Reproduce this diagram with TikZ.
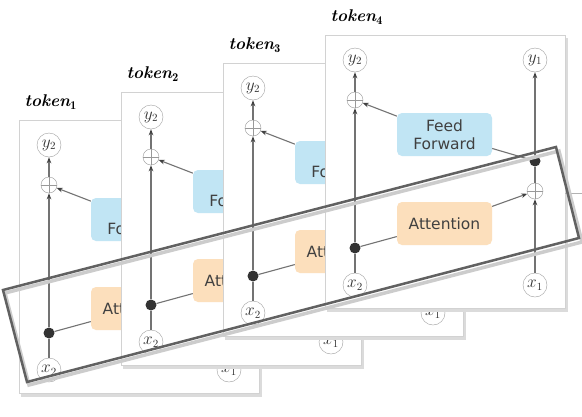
\documentclass[tikz,border=0pt]{standalone}
\usepackage{amsmath,amssymb}
\usepackage{fontspec}
\usepackage{xcolor}
\usepackage{tikz}
\usetikzlibrary{arrows.meta,positioning}
\newfontfamily\boxfont{DejaVu Sans}
\definecolor{ffblue}{RGB}{193,229,244}
\definecolor{attorange}{RGB}{252,223,188}
\definecolor{linegray}{RGB}{115,115,115}

\begin{document}
\begin{tikzpicture}[x=1pt, y=-1pt,
    tokcard/.style={draw=gray!35, fill=white},
    varnode/.style={circle, draw=gray!75, fill=white, minimum size=24pt, inner sep=0pt, text=black!80, font=\fontsize{16}{16}\selectfont},
    sumnode/.style={circle, draw=gray!80, fill=white, minimum size=16pt, inner sep=0pt},
    dotnode/.style={circle, fill=black!80, minimum size=11pt, inner sep=0pt},
    boxnode/.style={rounded corners=5pt, minimum width=95pt, minimum height=43pt, align=center,
        text=black!75, font=\boxfont\fontsize{15.5}{18}\selectfont},
    conn/.style={draw=linegray, line width=1.1pt},
    conarrow/.style={conn, -{Stealth[length=6pt, width=4.5pt, color=black!75]}}
]
    \useasboundingbox (0,0) rectangle (582,416);

    % the four token cards, back to front
    \foreach \i/\ox/\oy in {1/19/120, 2/121/92, 3/223/63, 4/325/35} {
        \begin{scope}[shift={(\ox,\oy)}]
            \fill[black!14] (2,3) rectangle (243,277);
            \draw[tokcard] (0,0) rectangle (240,273);
            \node[anchor=west] (tok\i) at (2,-18) {\fontsize{17}{20}\selectfont\bfseries\itshape token$_{\mathbf{\i}}$};
            \node[varnode] (ytwo\i) at (30,25) {$y_2$};
            \node[varnode] (yone\i) at (210,25) {$y_1$};
            \node[sumnode] (suml\i) at (30,65) {};
            \draw[gray!80] (suml\i.north) -- (suml\i.south) (suml\i.west) -- (suml\i.east);
            \node[boxnode, fill=ffblue] (ff\i) at (119.5,99.5) {Feed\\Forward};
            \node[dotnode] (dotr\i) at (210,126) {};
            \node[sumnode] (sumr\i) at (210,156) {};
            \draw[gray!80] (sumr\i.north) -- (sumr\i.south) (sumr\i.west) -- (sumr\i.east);
            \node[boxnode, fill=attorange] (att\i) at (119.5,188.5) {Attention};
            \node[dotnode] (dotl\i) at (30,213) {};
            \node[varnode] (xtwo\i) at (30,250) {$x_2$};
            \node[varnode] (xone\i) at (210,250) {$x_1$};
            \draw[conn] (xtwo\i) -- (dotl\i);
            \draw[conarrow] (dotl\i) -- (suml\i);
            \draw[conarrow] (suml\i) -- (ytwo\i);
            \draw[conn] (dotl\i) -- (att\i);
            \draw[conarrow] (att\i) -- (sumr\i);
            \draw[conarrow] (xone\i) -- (sumr\i);
            \draw[conn] (sumr\i) -- (dotr\i);
            \draw[conarrow] (dotr\i) -- (yone\i);
            \draw[conn] (dotr\i) -- (ff\i);
            \draw[conarrow] (ff\i) -- (suml\i);
        \end{scope}
    }
    \draw[gray!60, line width=1pt] (565,193) -- (582,193);

    % tilted frame over the attention layers
    \draw[black!20, line width=3.5pt, line join=miter] (5,293) -- (559,151) -- (582,242) -- (29,385) -- cycle;
    \draw[black!62, line width=2.5pt, line join=miter] (3,290) -- (556,147) -- (579,238) -- (27,382) -- cycle;
\end{tikzpicture}
\end{document}
